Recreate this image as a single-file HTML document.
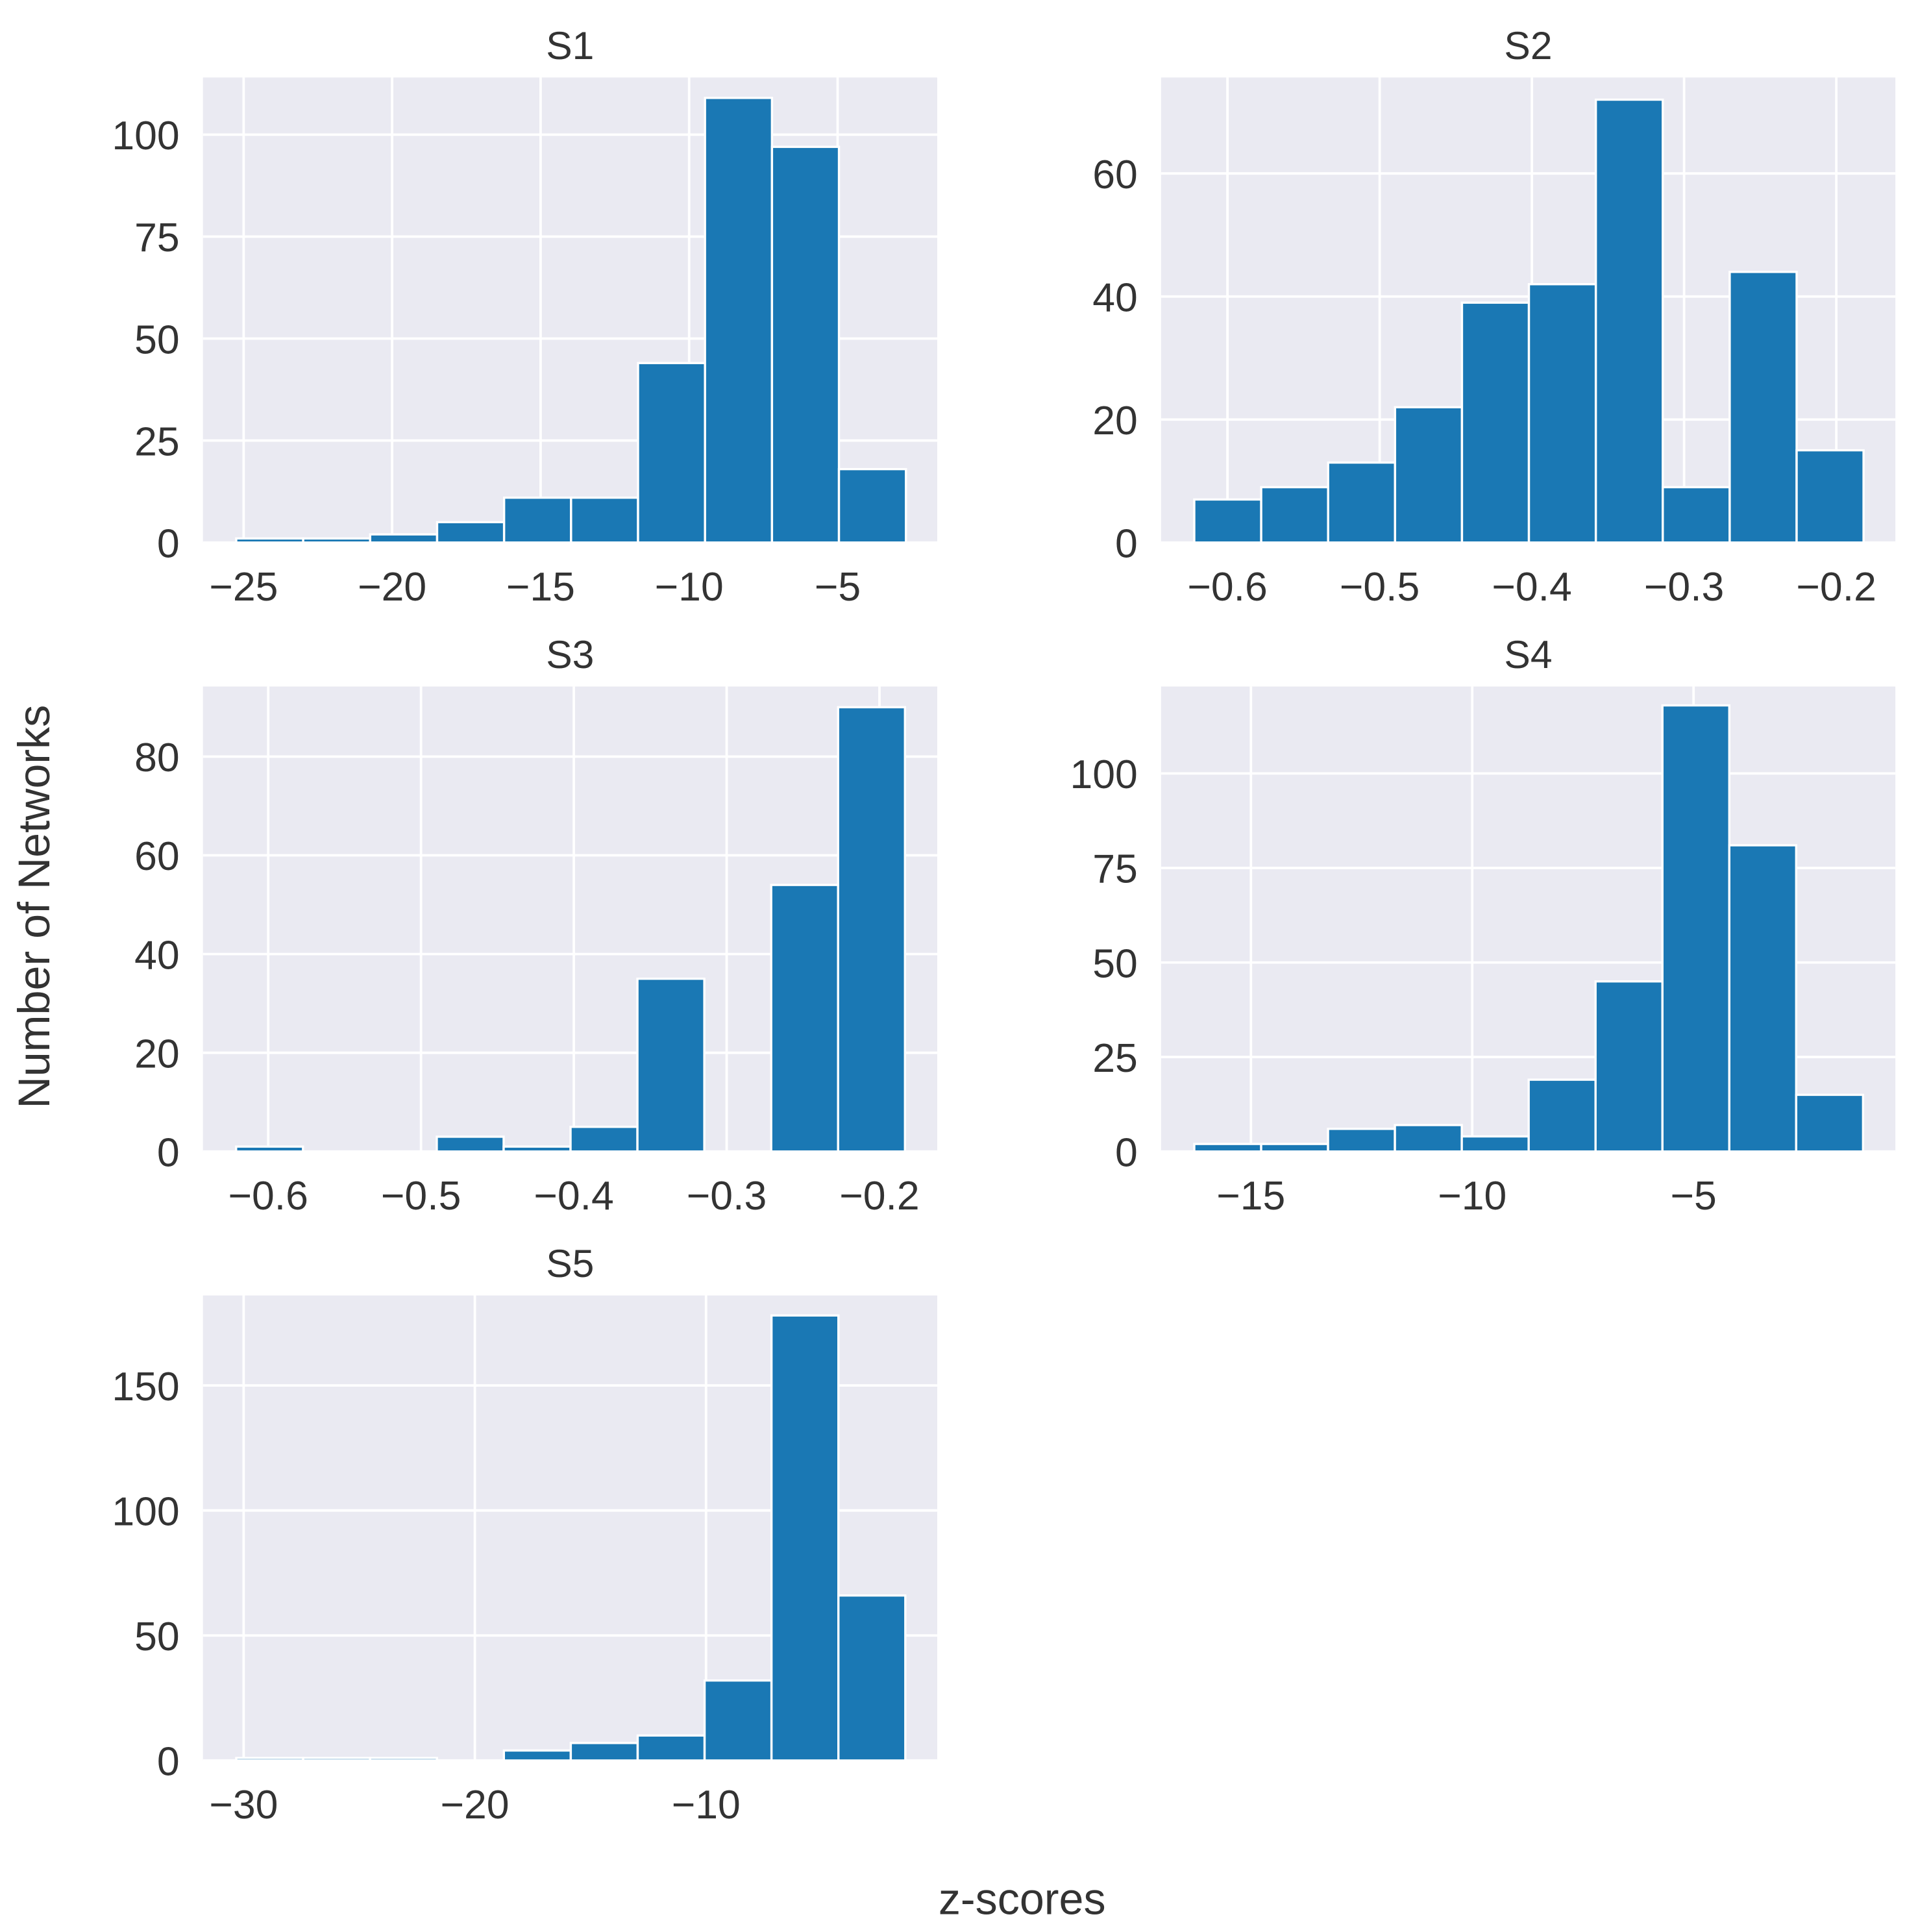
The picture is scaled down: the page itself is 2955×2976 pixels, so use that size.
<!DOCTYPE html>
<html><head><meta charset="utf-8"><style>
html,body{margin:0;padding:0;background:#fff;}
svg{display:block;font-family:"Liberation Sans",Arial,sans-serif;}
</style></head><body>
<svg id="fig" width="2955" height="2976" viewBox="0 0 1559.4 1570.4" preserveAspectRatio="none" xmlns="http://www.w3.org/2000/svg">
<text x="0" y="0" transform="translate(40,737) rotate(-90)" text-anchor="middle" font-size="36" fill="#333">Number of Networks</text>
<text x="831" y="1556" text-anchor="middle" font-size="36" fill="#333">z-scores</text>
</svg>
<script>
const titles = ["S1","S2","S3","S4","S5"];
const s1Counts = [1,1,2,5,11,11,44,109,97,18];
const s2Counts = [7,9,13,22,39,42,72,9,44,15];
const s3Counts = [1,0,0,3,1,5,35,0,54,90];
const s4Counts = [2,2,6,7,4,19,45,118,81,15];
const s5Counts = [1,1,1,0,4,7,10,32,178,66];
const binRanges = [[-25.25,-2.7],[-0.6218,-0.1821],[-0.621,-0.1833],[-16.28,-1.17],[-30.32,-1.38]];
const xDomains = [[-26.37,-1.646],[-0.6436,-0.1612],[-0.6427,-0.1622],[-17.03,-0.44],[-31.76,0.0]];
const yMaxes = [114,75.6,94.2,123,186];
const s1XTicks = [-25,-20,-15,-10,-5];
const s2XTicks = [-0.6,-0.5,-0.4,-0.3,-0.2];
const s3XTicks = [-0.6,-0.5,-0.4,-0.3,-0.2];
const s4XTicks = [-15,-10,-5];
const s5XTicks = [-30,-20,-10];
const s1YTicks = [0,25,50,75,100];
const s2YTicks = [0,20,40,60];
const s3YTicks = [0,20,40,60,80];
const s4YTicks = [0,25,50,75,100];
const s5YTicks = [0,50,100,150];

const counts=[s1Counts,s2Counts,s3Counts,s4Counts,s5Counts];
const xt=[s1XTicks,s2XTicks,s3XTicks,s4XTicks,s5XTicks];
const yt=[s1YTicks,s2YTicks,s3YTicks,s4YTicks,s5YTicks];
const boxes=[[165,63],[944,63],[165,558],[944,558],[165,1053]];
const W=597,H=378;
const NS="http://www.w3.org/2000/svg";
const svg=document.getElementById('fig');
function mk(tag,attrs,parent){const e=document.createElementNS(NS,tag);for(const k in attrs)e.setAttribute(k,attrs[k]);parent.appendChild(e);return e;}
function fmt(v){const s=(Math.abs(v)<1&&v!==0)?Math.abs(v).toFixed(1):String(Math.abs(v));return v<0?'\u2212'+s:s;}
for(let p=0;p<5;p++){
  const [x0,y0]=boxes[p];
  const g=mk('g',{},svg);
  
  
  const xd=xDomains[p];
  const xs=v=>x0+(v-xd[0])/(xd[1]-xd[0])*W;
  const ys=v=>y0+H-v/yMaxes[p]*H;
  const bg=mk('rect',{x:x0,y:y0,width:W,height:H,fill:'#eaeaf2'},g);
  
  
  for(const t of xt[p]){
    const l=mk('line',{x1:xs(t),x2:xs(t),y1:y0,y2:y0+H,stroke:'#fff','stroke-width':2},g);
    
    
    const tx=mk('text',{x:xs(t),y:y0+H+47,'text-anchor':'middle','font-size':33,fill:'#333'},g);
    tx.textContent=fmt(t);
    
    
  }
  for(const t of yt[p]){
    const l=mk('line',{x1:x0,x2:x0+W,y1:ys(t),y2:ys(t),stroke:'#fff','stroke-width':2},g);
    
    
    const tx=mk('text',{x:x0-19,y:ys(t)+12,'text-anchor':'end','font-size':33,fill:'#333'},g);
    tx.textContent=fmt(t);
    
    
  }
  const c=counts[p],br=binRanges[p],bw=(br[1]-br[0])/c.length;
  for(let i=0;i<c.length;i++){
    if(c[i]<=0)continue;
    const xa=xs(br[0]+i*bw),xb=xs(br[0]+(i+1)*bw);
    const r=mk('rect',{x:xa,y:ys(c[i]),width:xb-xa,height:ys(0)-ys(c[i]),fill:'#1a78b4',stroke:'#fff','stroke-width':1.8},g);
    
    
  }
  const tt=mk('text',{x:x0+W/2,y:y0-15,'text-anchor':'middle','font-size':32,fill:'#333'},g);
  tt.textContent=titles[p];
  
  
}
</script>
</body></html>
